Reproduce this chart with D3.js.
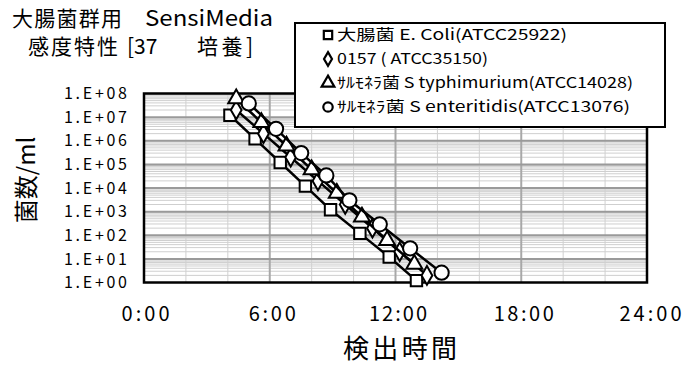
<!DOCTYPE html>
<html>
<head>
<meta charset="utf-8">
<script src="https://cdn.jsdelivr.net/npm/d3@7"></script>
<style>
  html, body { margin: 0; padding: 0; background: #fff; }
  svg { display: block; }
  text { font-family: "Noto Sans CJK JP", "Liberation Sans", sans-serif; fill: #000; }
</style>
</head>
<body>
<svg id="chart" width="695" height="367"></svg>
<script>
// Detection time (hours) vs. initial cell count (cells/ml) for each strain
const seriesNames = [
  "大腸菌 E. Coli(ATCC25922)",
  "0157 ( ATCC35150)",
  "ｻﾙﾓﾈﾗ菌 S typhimurium(ATCC14028)",
  "ｻﾙﾓﾈﾗ菌 S enteritidis(ATCC13076)"
];
const ecoliHours  = [4.1, 5.3, 6.5, 7.7, 8.9, 10.3, 11.7, 13.0];
const ecoliCounts = [1.2e7, 1.2e6, 1.2e5, 1.2e4, 1.2e3, 1.2e2, 1.2e1, 1.2e0];
const o157Hours   = [4.4, 5.7, 7.0, 8.3, 9.6, 10.9, 12.2, 13.5];
const o157Counts  = [2e7, 2e6, 2e5, 2e4, 2e3, 2e2, 2e1, 2e0];
const typhiHours  = [4.4, 5.6, 6.8, 8.0, 9.2, 10.4, 11.6, 12.9];
const typhiCounts = [6e7, 6e6, 6e5, 6e4, 6e3, 6e2, 6e1, 6e0];
const enterHours  = [5.0, 6.3, 7.5, 8.7, 9.8, 11.25, 12.7, 14.2];
const enterCounts = [3.8e7, 3.2e6, 3.0e5, 3.4e4, 3.0e3, 2.9e2, 2.8e1, 2.6e0];

const xTickHours  = [0, 6, 12, 18, 24];
const xTickLabels = ["0:00", "6:00", "12:00", "18:00", "24:00"];
const yTickValues = [1e0, 1e1, 1e2, 1e3, 1e4, 1e5, 1e6, 1e7, 1e8];
const yTickLabels = ["1.E+00", "1.E+01", "1.E+02", "1.E+03", "1.E+04", "1.E+05", "1.E+06", "1.E+07", "1.E+08"];

const series = [
  { name: seriesNames[0], hours: ecoliHours, counts: ecoliCounts, symbol: d3.symbolSquare },
  { name: seriesNames[1], hours: o157Hours,  counts: o157Counts,  symbol: d3.symbolDiamond },
  { name: seriesNames[2], hours: typhiHours, counts: typhiCounts, symbol: d3.symbolTriangle },
  { name: seriesNames[3], hours: enterHours, counts: enterCounts, symbol: d3.symbolCircle }
];

const svg = d3.select("#chart");
const plot = { left: 144, right: 647, top: 93.5, bottom: 282.5 };

const x = d3.scaleLinear().domain([0, 24]).range([plot.left, plot.right]);
const y = d3.scaleLog().domain([1, 1e8]).range([plot.bottom, plot.top]);

// plot background
svg.append("rect")
  .attr("x", plot.left).attr("y", plot.top)
  .attr("width", plot.right - plot.left).attr("height", plot.bottom - plot.top)
  .attr("fill", "#fff");

// minor horizontal gridlines (2..9 within each decade)
const minorY = [];
for (let e = 0; e < 8; e++) for (let m = 2; m <= 9; m++) minorY.push(m * Math.pow(10, e));
svg.append("g").selectAll("line").data(minorY).join("line")
  .attr("x1", plot.left).attr("x2", plot.right)
  .attr("y1", d => y(d)).attr("y2", d => y(d))
  .attr("stroke", "#cfcfcf").attr("stroke-width", 1);

// vertical gridlines every 2 hours, heavier every 6 hours
const gridHours = d3.range(2, 24, 2);
svg.append("g").selectAll("line").data(gridHours).join("line")
  .attr("x1", d => x(d)).attr("x2", d => x(d))
  .attr("y1", plot.top).attr("y2", plot.bottom)
  .attr("stroke", d => d % 6 === 0 ? "#a8a8a8" : "#d0d0d0")
  .attr("stroke-width", d => d % 6 === 0 ? 2 : 1);

// decade gridlines
svg.append("g").selectAll("line").data(yTickValues.slice(1, -1)).join("line")
  .attr("x1", plot.left).attr("x2", plot.right)
  .attr("y1", d => y(d)).attr("y2", d => y(d))
  .attr("stroke", "#9a9a9a").attr("stroke-width", 2);

// plot border
svg.append("rect")
  .attr("x", plot.left).attr("y", plot.top)
  .attr("width", plot.right - plot.left).attr("height", plot.bottom - plot.top)
  .attr("fill", "none").attr("stroke", "#000").attr("stroke-width", 2.5);

// y axis labels
const yAxis = d3.axisLeft(y).tickValues(yTickValues)
  .tickFormat((d, i) => yTickLabels[i]).tickSize(0).tickPadding(17);
const gy = svg.append("g").attr("transform", `translate(${plot.left},0)`).call(yAxis);
gy.select(".domain").remove();
gy.selectAll("text")
  .attr("font-family", "'Liberation Sans', sans-serif")
  .attr("font-size", 16).attr("textLength", 63).attr("lengthAdjust", "spacing");

// x axis labels
const xLabelWidths = [48, 47, 58, 60, 62];
const xAxis = d3.axisBottom(x).tickValues(xTickHours)
  .tickFormat((d, i) => xTickLabels[i]).tickSize(0).tickPadding(24);
const gx = svg.append("g").attr("transform", `translate(0,${plot.bottom})`).call(xAxis);
gx.select(".domain").remove();
gx.selectAll("text")
  .attr("font-family", "'Liberation Sans', sans-serif")
  .attr("font-size", 20)
  .attr("textLength", (d, i) => xLabelWidths[i]).attr("lengthAdjust", "spacing")
  .attr("dx", (d, i) => i === 0 ? 1 : i === 4 ? 3 : 2);

// series lines and markers
const line = d3.line().x(d => x(d[0])).y(d => y(d[1]));
series.forEach(s => {
  const pts = s.hours.map((h, i) => [h, s.counts[i]]);
  const g = svg.append("g");
  g.append("path").datum(pts).attr("d", line)
    .attr("fill", "none").attr("stroke", "#000").attr("stroke-width", 2.5);
  const size = s.symbol === d3.symbolTriangle ? 110 : s.symbol === d3.symbolCircle ? 160 : s.symbol === d3.symbolDiamond ? 100 : 130;
  g.selectAll("path.mk").data(pts).join("path").attr("class", "mk")
    .attr("transform", d => `translate(${x(d[0])},${y(d[1])})`)
    .attr("d", d3.symbol().type(s.symbol).size(size))
    .attr("fill", "#fff").attr("stroke", "#000").attr("stroke-width", 2);
});

// legend
const legend = svg.append("g");
legend.append("rect")
  .attr("x", 295).attr("y", 23).attr("width", 370).attr("height", 104)
  .attr("fill", "#fff").attr("stroke", "#000").attr("stroke-width", 2);
const legendWidths = [230, 151, 296, 293];
series.forEach((s, i) => {
  const cy = 35 + i * 24;
  const size = s.symbol === d3.symbolDiamond ? 55 : 70;
  legend.append("path")
    .attr("transform", `translate(328,${cy})`)
    .attr("d", d3.symbol().type(s.symbol).size(size))
    .attr("fill", "#fff").attr("stroke", "#000").attr("stroke-width", 2.2);
  legend.append("text")
    .attr("x", 337).attr("y", cy).attr("dy", "0.36em")
    .attr("font-size", 15)
    .attr("textLength", legendWidths[i]).attr("lengthAdjust", "spacingAndGlyphs")
    .text(s.name);
});

// title (two lines, split into pieces so each sits where it belongs)
const title = svg.append("g").attr("font-size", 21);
title.append("text").attr("x", 12).attr("y", 26)
  .attr("textLength", 110).attr("lengthAdjust", "spacing").text("大腸菌群用");
title.append("text").attr("x", 145).attr("y", 26)
  .attr("font-family", "'Liberation Serif', serif").attr("font-size", 22)
  .attr("textLength", 128).attr("lengthAdjust", "spacingAndGlyphs")
  .text("SensiMedia");
title.append("text").attr("x", 28).attr("y", 54)
  .attr("textLength", 90).attr("lengthAdjust", "spacing").text("感度特性");
title.append("text").attr("x", 127).attr("y", 54)
  .attr("font-family", "'Liberation Sans', sans-serif").text("[37");
title.append("text").attr("x", 197).attr("y", 54)
  .attr("textLength", 56).attr("lengthAdjust", "spacing").text("培養]");

// axis titles
svg.append("text")
  .attr("transform", "translate(35,180) rotate(-90)")
  .attr("text-anchor", "middle").attr("font-size", 24)
  .text("菌数/ml");
svg.append("text")
  .attr("x", 400).attr("y", 358).attr("text-anchor", "middle")
  .attr("font-size", 26).attr("textLength", 114).attr("lengthAdjust", "spacing")
  .text("検出時間");
</script>
</body>
</html>
